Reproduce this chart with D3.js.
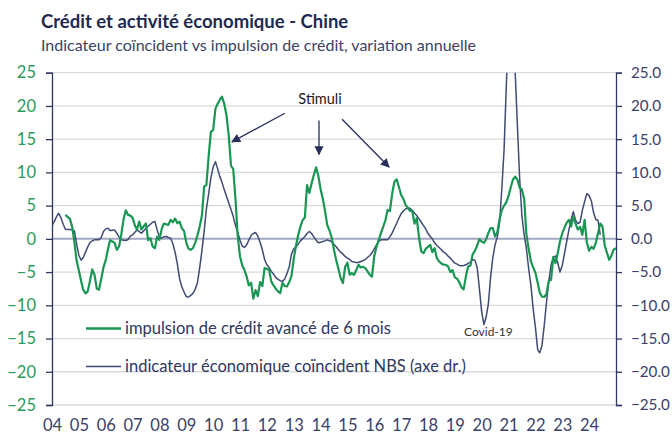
<!DOCTYPE html>
<html>
<head>
<meta charset="utf-8">
<script src="https://cdn.jsdelivr.net/npm/d3@7"></script>
<style>
  body { margin: 0; background: #fff; }
  svg { font-family: Lato, "Open Sans", sans-serif; }
</style>
</head>
<body>
<div id="chart"></div>
<script>
// Tick values (both axes share the same range)
const leftTicks = [25, 20, 15, 10, 5, 0, -5, -10, -15, -20, -25];
const rightTicks = [25, 20, 15, 10, 5, 0, -5, -10, -15, -20, -25];
const yearLabels = ["04","05","06","07","08","09","10","11","12","13","14","15","16","17","18","19","20","21","22","23","24"];

// indicateur économique coïncident NBS, monthly from 2004-01
const nbsStart = "2004-01";
const nbsValues = [
  2.0, 2.6, 3.3, 3.85, 3.2, 2.2, 1.45, 1.4, 1.4, 1.35, 1.2, -0.8,
  -2.5, -3.2, -2.8, -2.0, -1.2, -0.55, -0.3, -0.15, -0.1, -0.15, 0.2, 1.1,
  1.5, 1.6, 1.25, 1.3, 1.35, 0.85, 0.3, -0.15, -0.2, -0.25, -0.1, 0.4,
  0.6, 1.0, 1.35, 1.1, 0.85, 1.2, 1.6, 1.9, 2.2, 2.5, 2.6, 1.35,
  0.3, 0.1, 0.3, 0.35, 0.2, 0.1, -0.7, -2.0, -3.8, -6.0, -7.2, -8.0,
  -8.7, -8.75, -8.5, -8.2, -7.6, -6.6, -4.4, -1.8, 1.2, 4.5, 6.8, 9.2,
  10.8, 11.6, 10.6, 9.4, 8.5, 7.4, 6.4, 5.4, 4.4, 3.35, 2.0, 1.0,
  -0.2, -1.1, -1.3, -0.9, -0.2, 0.5, 0.8, 0.95, 0.4, -0.5, -1.65, -3.1,
  -3.9, -4.3, -4.9, -5.3, -5.8, -6.1, -6.3, -6.4, -6.05, -5.2, -4.2, -2.3,
  -1.5, -1.2, -0.8, -0.3, 0.0, 0.35, 0.8, 1.1, 0.8, 0.3, -0.2, -0.6,
  -0.5, -0.4, -0.3, -0.15, -0.3, -0.4, -0.8, -1.2, -1.65, -2.0, -2.3, -2.65,
  -2.9, -3.1, -3.4, -3.5, -3.55, -3.55, -3.4, -3.3, -3.1, -2.8, -2.5, -2.1,
  -1.5, -0.9, -0.4, -0.15, -0.15, -0.15, -0.15, 0.3, 0.9, 1.6, 2.35, 3.1,
  3.8, 4.2, 4.5, 4.6, 4.6, 4.3, 3.9, 3.5, 3.0, 2.5, 2.0, 1.5,
  0.8, 0.35, 0.0, -0.6, -1.0, -1.3, -1.6, -2.0, -2.2, -2.6, -2.9, -3.3,
  -3.65, -3.8, -4.0, -4.05, -4.0, -3.9, -3.7, -3.5, -3.1, -3.2, -4.3, -7.5,
  -11.0, -12.9, -11.8, -9.8, -5.8, -2.8, -0.9, 0.3, 2.5, 7.5, 13.5, 23.0,
  32.0, 35.0, 31.0, 25.0, 17.0, 9.0, 3.5, 0.6, -1.5, -4.5, -7.0, -10.5,
  -13.3, -16.7, -17.15, -16.0, -13.0, -9.5, -6.5, -4.0, -2.7, -2.6, -3.6, -5.0,
  -4.0, -2.2, -0.5, 1.35, 2.9, 4.1, 2.8, 2.3, 2.5, 4.3, 5.6, 6.8,
  6.5, 5.7, 4.0, 2.9, 2.8, 0.6
];

// impulsion de crédit avancé de 6 mois, monthly from 2004-07
const creditStart = "2004-07";
const creditValues = [
  3.6, 3.3, 3.0, 1.8, -0.5, -3.3,
  -4.8, -6.4, -7.65, -8.2, -7.9, -6.3, -4.6, -5.4, -7.5, -7.65, -6.0, -4.3,
  -3.2, -1.5, -0.2, -0.4, -0.6, -1.65, -1.15, 0.7, 3.0, 4.3, 3.6, 3.5,
  3.2, 2.0, 1.4, 2.6, 1.4, 1.9, 2.3, -0.2, 0.1, -1.15, -1.4, 0.35,
  -0.15, 1.5, 2.3, 2.2, 2.1, 2.85, 2.5, 3.05, 2.35, 2.6, 1.6, 1.2,
  -0.6, -1.5, -1.65, -1.4, -0.6, 0.5, 1.8, 3.5, 7.9, 8.1, 12.5, 16.1,
  16.4, 19.6, 20.3, 20.9, 21.4, 20.3, 18.6, 15.5, 11.0, 10.5, 5.9, 0.4,
  -2.65, -4.0, -4.65, -5.65, -7.0, -6.6, -9.0, -7.7, -8.6, -6.5, -7.1, -4.4,
  -4.5, -4.7, -6.4, -7.0, -7.5, -7.9, -8.15, -6.6, -7.1, -7.15, -6.5, -5.6,
  -3.0, -1.0, 0.5, 1.8, 2.8, 3.2, 8.1, 6.9, 8.35, 9.6, 10.75, 9.5,
  7.5, 6.0, 4.3, 2.1, 1.3, 0.2, -1.6, -3.2, -4.5, -5.9, -6.65, -4.2,
  -3.6, -5.4, -5.15, -5.4, -4.7, -3.9, -4.3, -4.2, -4.4, -4.9, -5.4, -5.7,
  -2.6, -1.2, -0.2, 0.85, 1.8, 2.8, 4.35, 4.2, 6.8, 8.6, 8.95, 7.8,
  6.6, 6.0, 5.1, 4.7, 4.2, 4.2, 2.3, 3.1, 0.2, -1.9, -2.15, -1.5,
  -1.2, -0.9, -2.0, -1.4, -2.9, -3.4, -3.7, -3.9, -3.9, -4.15, -5.0, -4.7,
  -5.8, -6.0, -6.5, -7.3, -7.6, -5.6, -4.15, -4.0, -2.3, -1.8, -1.0, -0.05,
  -0.4, -0.6, -0.1, 0.9, 1.6, 1.6, 0.35, 1.0, 3.0, 4.3, 5.0, 5.5,
  6.5, 7.8, 8.9, 9.35, 8.9, 7.7, 7.4, 6.0, 0.6, -1.5, -3.4, -4.3,
  -5.1, -6.6, -8.1, -8.7, -8.75, -8.3, -6.3, -6.2, -2.8, -3.65, -2.1, -0.4,
  0.85, 1.7, 2.4, 2.85, 1.85, 3.35, 2.3, 1.4, 1.8, 0.6, 2.85, -0.5,
  -1.8, -1.2, -1.5, -0.6, 0.8, 2.3, 1.9, -1.0, -2.15, -3.15, -2.5, -1.6,
  -1.4
];

const W = 672, H = 435;
const plot = {left: 52, right: 616, top: 72.7, bottom: 405};
const navy = "#2f375f";
const green = "#1a9654";

const parseMonth = d3.timeParse("%Y-%m");
function toSeries(start, values) {
  const s = parseMonth(start);
  return values.map((v, i) => ({date: d3.timeMonth.offset(s, i), value: v}));
}
const nbs = toSeries(nbsStart, nbsValues);
const credit = toSeries(creditStart, creditValues);

const svg = d3.select("#chart").append("svg")
  .attr("width", W).attr("height", H);

const x = d3.scaleTime()
  .domain([new Date(2004, 0, 1), new Date(2025, 0, 1)])
  .range([plot.left, plot.right]);
const y = d3.scaleLinear().domain([-25, 25]).range([plot.bottom, plot.top]);

// titles
svg.append("text").attr("x", 41).attr("y", 28)
  .attr("font-size", 18.5).attr("font-weight", 700).attr("fill", "#1f2a50")
  .text("Crédit et activité économique - Chine");
svg.append("text").attr("x", 41).attr("y", 51)
  .attr("font-size", 16).attr("fill", "#3a4466")
  .text("Indicateur coïncident vs impulsion de crédit, variation annuelle");

// gridlines
svg.append("g").selectAll("line")
  .data(leftTicks)
  .join("line")
    .attr("x1", plot.left).attr("x2", plot.right)
    .attr("y1", d => y(d)).attr("y2", d => y(d))
    .attr("stroke", d => d === 0 ? "#a3a9c0" : "#dadada")
    .attr("stroke-width", d => d === 0 ? 2 : 1.3);

// left axis
const yLeft = d3.axisLeft(y).tickValues(leftTicks).tickSize(6).tickPadding(10);
svg.append("g")
  .attr("transform", `translate(${plot.left},0)`)
  .call(yLeft)
  .call(g => g.select(".domain").attr("stroke", navy).attr("stroke-width", 1.3))
  .call(g => g.selectAll(".tick line").attr("stroke", navy).attr("stroke-width", 1.3))
  .call(g => g.selectAll(".tick text").attr("fill", "#2b9a5a")
    .attr("font-size", 16.5).attr("font-family", "Lato, sans-serif"));

// right axis
const yRight = d3.axisRight(y).tickValues(rightTicks).tickSize(6).tickPadding(9)
  .tickFormat(d3.format(".1f"));
svg.append("g")
  .attr("transform", `translate(${plot.right},0)`)
  .call(yRight)
  .call(g => g.select(".domain").attr("stroke", navy).attr("stroke-width", 1.3))
  .call(g => g.selectAll(".tick line").attr("stroke", navy).attr("stroke-width", 1.3))
  .call(g => g.selectAll(".tick text").attr("fill", "#39416a")
    .attr("font-size", 15.2).attr("font-family", "Lato, sans-serif"));

// x axis labels
const xAxis = d3.axisBottom(x)
  .tickValues(yearLabels.map(s => new Date(2000 + +s, 0, 1)))
  .tickFormat(d3.timeFormat("%y"))
  .tickSize(0).tickPadding(14);
svg.append("g")
  .attr("transform", `translate(0,${plot.bottom})`)
  .call(xAxis)
  .call(g => g.select(".domain").remove())
  .call(g => g.selectAll(".tick text").attr("fill", "#39416a")
    .attr("font-size", 16.5).attr("font-family", "Lato, sans-serif"));

// clip for lines
svg.append("clipPath").attr("id", "clip")
  .append("rect")
    .attr("x", plot.left).attr("y", plot.top)
    .attr("width", plot.right - plot.left).attr("height", plot.bottom - plot.top);

const line = d3.line().x(d => x(d.date)).y(d => y(d.value));

svg.append("path").datum(nbs)
  .attr("clip-path", "url(#clip)")
  .attr("fill", "none").attr("stroke", "#404a72").attr("stroke-width", 1.5)
  .attr("stroke-linejoin", "round")
  .attr("d", line);

svg.append("path").datum(credit)
  .attr("clip-path", "url(#clip)")
  .attr("fill", "none").attr("stroke", green).attr("stroke-width", 2.2)
  .attr("stroke-linejoin", "round")
  .attr("d", line);

// legend
const legend = [
  {label: "impulsion de crédit avancé de 6 mois", color: green, width: 2.6, yv: -13.5},
  {label: "indicateur économique coïncident NBS (axe dr.)", color: "#404a72", width: 1.6, yv: -19.2}
];
const lg = svg.append("g").selectAll("g").data(legend).join("g")
  .attr("transform", d => `translate(86,${y(d.yv)})`);
lg.append("line").attr("x1", 0).attr("x2", 35)
  .attr("stroke", d => d.color).attr("stroke-width", d => d.width);
lg.append("text").attr("x", 39).attr("dy", "0.35em")
  .attr("font-size", 16.5).attr("fill", "#2f375f")
  .text(d => d.label);

// annotations
const defs = svg.append("defs");
defs.append("marker").attr("id", "arrow")
  .attr("viewBox", "0 0 10 10").attr("refX", 9).attr("refY", 5)
  .attr("markerWidth", 7).attr("markerHeight", 7).attr("orient", "auto")
  .append("path").attr("d", "M0,0 L10,5 L0,10 z").attr("fill", "#27305a");

const yr = v => new Date(Math.floor(v), 0, 1).getTime() + (v % 1) * 365.25 * 864e5;
const arrows = [
  {from: [2012.67, 18.9], to: [2010.70, 14.6]},
  {from: [2013.94, 17.8], to: [2013.94, 12.7]},
  {from: [2014.80, 18.0], to: [2016.55, 10.8]}
];
svg.append("g").selectAll("line").data(arrows).join("line")
  .attr("x1", d => x(yr(d.from[0]))).attr("y1", d => y(d.from[1]))
  .attr("x2", d => x(yr(d.to[0]))).attr("y2", d => y(d.to[1]))
  .attr("stroke", "#27305a").attr("stroke-width", 1.3)
  .attr("marker-end", "url(#arrow)");

svg.append("text")
  .attr("x", x(yr(2013.98))).attr("y", y(20.3))
  .attr("text-anchor", "middle").attr("font-size", 14.5).attr("fill", "#1a1a1a")
  .text("Stimuli");

svg.append("text")
  .attr("x", x(yr(2020.25))).attr("y", y(-14.6))
  .attr("text-anchor", "middle").attr("font-size", 12).attr("fill", "#333")
  .text("Covid-19");
</script>
</body>
</html>
